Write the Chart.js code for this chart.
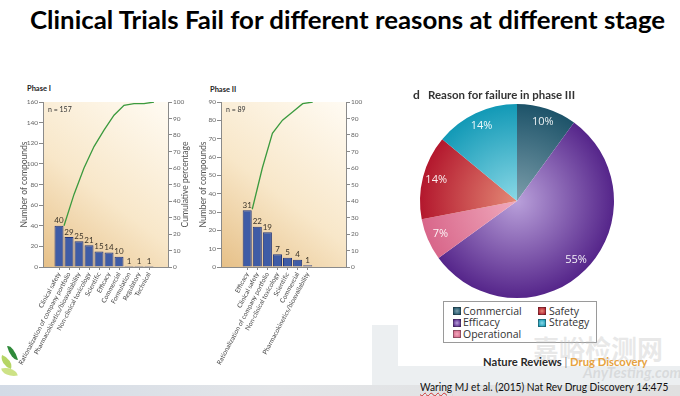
<!DOCTYPE html>
<html><head><meta charset="utf-8">
<script src="https://cdn.jsdelivr.net/npm/chart.js@4.4.1/dist/chart.umd.min.js"></script>
<style>
html,body{margin:0;padding:0;}
body{width:680px;height:396px;overflow:hidden;background:#fff;position:relative;font-family:Lato,"Open Sans",sans-serif;}
.a{position:absolute;white-space:nowrap;}
canvas{position:absolute;}
.sw{position:absolute;width:8px;height:8px;box-sizing:border-box;border:1px solid rgba(0,0,0,0.35);}
.lt{position:absolute;font-size:10.5px;line-height:11px;color:#333;font-family:"Open Sans",Lato,sans-serif;}
.leaf{position:absolute;z-index:5;border-radius:0 100% 0 100%;}
</style></head><body>
<div class="a" style="left:372px;top:325px;width:308px;height:71px;background:#eceff1"></div>
<div class="a" style="left:398px;top:70px;width:282px;height:296px;background:#fff"></div>
<div class="a" style="left:0;top:385px;width:680px;height:11px;background:linear-gradient(90deg,#d3dbe6,#e3e5e8 40%,#e0e0e0)"></div>
<div class="leaf" style="left:9px;top:345px;width:7px;height:16px;background:#2f8a3a;transform:rotate(-15deg)"></div>
<div class="leaf" style="left:0px;top:357px;width:13px;height:10px;background:#b5d565;transform:rotate(20deg)"></div>
<div class="leaf" style="left:2px;top:367px;width:15px;height:10px;background:#cde286;transform:rotate(-10deg)"></div>
<div id="title" class="a" style="left:30px;top:5px;font-weight:700;font-size:24px;line-height:30px;color:#000;transform-origin:0 0">Clinical Trials Fail for different reasons at different stage</div>
<div class="a" style="left:27px;top:85px;font-weight:700;font-size:7.5px;line-height:8px;color:#222">Phase I</div>
<div class="a" style="left:210px;top:86px;font-weight:700;font-size:7.5px;line-height:8px;color:#222">Phase II</div>
<canvas id="c1" width="188" height="300" style="left:5px;top:80px"></canvas>
<canvas id="c2" width="175" height="300" style="left:195px;top:80px"></canvas>
<canvas id="c3" width="200" height="200" style="left:417px;top:101px"></canvas>
<div class="a" style="left:413px;top:88px;font-weight:700;font-size:12px;line-height:13px;color:#333">d</div>
<div id="dtitle" class="a" style="left:428px;top:89px;font-weight:700;font-size:10.5px;line-height:12px;color:#333;transform-origin:0 0">Reason for failure in phase III</div>
<div id="legend" class="a" style="left:443px;top:301px;width:152px;height:40px;border:1px solid #9a9a9a;background:#fff"></div>
<div class="a" style="left:533px;top:333px;font-weight:700;font-size:26px;line-height:30px;color:rgba(190,190,190,0.35);font-family:'Noto Sans CJK SC'">嘉峪检测网</div>
<div id="nature" class="a" style="left:483px;top:356px;font-weight:700;font-size:10.5px;line-height:12px;color:#2a2a2a;transform-origin:0 0">Nature Reviews <span style="color:#888;font-weight:400">|</span> <span style="color:#e6a240">Drug Discovery</span></div>
<div class="a" style="left:583px;top:364px;font-weight:700;font-style:italic;font-size:15px;line-height:16px;color:rgba(180,180,180,0.35)">AnyTesting.com</div>
<div id="foot" class="a" style="left:420px;top:380px;font-size:11px;line-height:14px;color:#111;transform-origin:0 0"><span style="text-decoration:underline wavy #d03030;text-decoration-thickness:1px">Waring</span> MJ et al. (2015) Nat Rev Drug Discovery 14:475</div>
<script>
// ---------- data ----------
const phase1Categories = ['Clinical safety','Rationalization of company portfolio','Pharmacokinetics/bioavailability','Non-clinical toxicology','Scientific','Efficacy','Commercial','Formulation','Regulatory','Technical'];
const phase1Counts = [40,29,25,21,15,14,10,1,1,1];
const phase1Cumulative = [25,44,60,73,83,92,98,99,99,100];
const phase1N = 157;
const phase1CountTicks = [0,20,40,60,80,100,120,140,160];

const phase2Categories = ['Efficacy','Clinical safety','Rationalization of company portfolio','Non-clinical toxicology','Scientific','Commercial','Pharmacokinetics/bioavailability'];
const phase2Counts = [31,22,19,7,5,4,1];
const phase2Cumulative = [35,60,81,89,94,99,100];
const phase2N = 89;
const phase2CountTicks = [0,10,20,30,40,50,60,70,80,90];

const percentTicks = [0,10,20,30,40,50,60,70,80,90,100];

const phase3Reasons = ['Commercial','Efficacy','Operational','Safety','Strategy'];
const phase3Shares = [10,55,7,14,14];

// ---------- styles ----------
const pieCenterColors = ['#7c9eab','#b9a0da','#f0aabd','#e48a76','#8ad8e6'];
const pieEdgeColors   = ['#1d5369','#55258a','#d8668a','#b3172d','#1299b6'];

Chart.defaults.font.family = 'Lato, "Open Sans", sans-serif';
Chart.defaults.color = '#555';

const bgPlugin = {
  id: 'panelBg',
  beforeDraw(chart) {
    const {ctx, chartArea: a} = chart;
    const g = ctx.createLinearGradient(a.left, a.bottom, a.right, a.top);
    g.addColorStop(0, '#e6c088');
    g.addColorStop(0.45, '#f8e7c9');
    g.addColorStop(1, '#fffbf3');
    ctx.save(); ctx.fillStyle = g; ctx.fillRect(a.left, a.top, a.width, a.height); ctx.restore();
  }
};

function extrasPlugin(nValue, showRightTitle) {
  return {
    id: 'extras',
    afterDatasetsDraw(chart) {
      const {ctx, chartArea: a} = chart;
      ctx.save();
      ctx.fillStyle = '#3a3328';
      ctx.font = '8px Lato, "Open Sans", sans-serif';
      ctx.textAlign = 'center'; ctx.textBaseline = 'bottom';
      const meta = chart.getDatasetMeta(1);
      meta.data.forEach((bar, i) => {
        ctx.fillText(String(chart.data.datasets[1].data[i].y), bar.x, bar.y - 1);
      });
      ctx.textAlign = 'left'; ctx.textBaseline = 'middle';
      ctx.fillStyle = '#333';
      ctx.font = '7px Lato, "Open Sans", sans-serif';
      ctx.fillText('n = ' + nValue, a.left + 5, a.top + 8);
      if (showRightTitle) {
        ctx.translate(a.right + 17.5, (a.top + a.bottom) / 2);
        ctx.rotate(-Math.PI / 2);
        ctx.textAlign = 'center';
        ctx.fillStyle = '#555';
        ctx.font = '8.5px Lato, "Open Sans", sans-serif';
        ctx.fillText('Cumulative percentage', 0, 0);
      }
      ctx.restore();
    }
  };
}

function pareto(id, labels, counts, cumulative, nValue, countTicks, cfg) {
  const barData = counts.map((v, i) => ({x: i, y: v}));
  const lineData = cumulative.map((v, i) => ({x: i + 0.5, y: v}));
  const axisColor = '#8a8a8a';
  return new Chart(document.getElementById(id), {
    data: {
      datasets: [
        {type: 'line', data: lineData, yAxisID: 'yPct', borderColor: '#3b9a3e', borderWidth: 1.3, pointRadius: 0, tension: 0, order: 0},
        {type: 'bar', data: barData, yAxisID: 'yCount', backgroundColor: '#3f5ca6', borderColor: '#24377b', borderWidth: 1, barPercentage: 0.9, categoryPercentage: 1, order: 1}
      ]
    },
    options: {
      responsive: false, animation: false, events: [],
      layout: {padding: {top: 22, left: 0, right: 0, bottom: 0}},
      plugins: {legend: {display: false}, tooltip: {enabled: false}},
      scales: {
        x: {
          type: 'linear', min: cfg.xMin, max: cfg.xMax, offset: false,
          afterBuildTicks: s => { s.ticks = labels.map((l, i) => ({value: i})); },
          ticks: {autoSkip: false, minRotation: 62, maxRotation: 62, padding: 1, color: '#444', font: {size: 6.5},
                  callback: v => labels[v]},
          grid: {display: true, drawOnChartArea: false, offset: false, tickLength: 3, color: axisColor},
          border: {display: true, color: axisColor},
          afterFit: s => { s.height = 113; s.paddingLeft = 0; s.paddingRight = 0; }
        },
        yCount: {
          position: 'left', min: 0, max: countTicks[countTicks.length - 1],
          afterBuildTicks: s => { s.ticks = countTicks.map(v => ({value: v})); },
          ticks: {padding: 1, color: '#666', font: {size: 6.5}},
          grid: {display: true, drawOnChartArea: false, tickLength: 4, color: axisColor},
          border: {display: true, color: axisColor},
          title: {display: true, text: 'Number of compounds', color: '#555', font: {size: 8.5}, padding: {top: cfg.titlePad, bottom: 0}},
          afterFit: s => { s.width = cfg.leftW; }
        },
        yPct: {
          position: 'right', min: 0, max: 100,
          afterBuildTicks: s => { s.ticks = percentTicks.map(v => ({value: v})); },
          ticks: {padding: 1, color: '#666', font: {size: 6.5}},
          grid: {display: true, drawOnChartArea: false, tickLength: 4, color: axisColor},
          border: {display: true, color: axisColor},
          afterFit: s => { s.width = cfg.rightW; }
        }
      }
    },
    plugins: [bgPlugin, extrasPlugin(nValue, cfg.rightTitle)]
  });
}

pareto('c1', phase1Categories, phase1Counts, phase1Cumulative, phase1N, phase1CountTicks,
       {xMin: -1.6, xMax: 10.9, leftW: 38, rightW: 25, titlePad: 14, rightTitle: true});
pareto('c2', phase2Categories, phase2Counts, phase2Cumulative, phase2N, phase2CountTicks,
       {xMin: -2.6, xMax: 9.8, leftW: 26, rightW: 24, titlePad: 3, rightTitle: false});

// ---------- pie ----------
function radial(c) {
  const chart = c.chart, a = chart.chartArea, i = c.dataIndex;
  if (!a) return pieEdgeColors[i];
  const cx = (a.left + a.right) / 2, cy = (a.top + a.bottom) / 2, r = Math.min(a.width, a.height) / 2;
  const g = chart.ctx.createRadialGradient(cx, cy, 0, cx, cy, r);
  g.addColorStop(0, pieCenterColors[i]);
  g.addColorStop(1, pieEdgeColors[i]);
  return g;
}
const pieLabels = {
  id: 'pieLabels',
  afterDatasetsDraw(chart) {
    const {ctx} = chart;
    ctx.save();
    ctx.fillStyle = 'rgba(255,255,255,0.92)';
    ctx.font = '11px "Open Sans", Lato, sans-serif';
    ctx.textAlign = 'center'; ctx.textBaseline = 'middle';
    chart.getDatasetMeta(0).data.forEach((arc, i) => {
      const mid = (arc.startAngle + arc.endAngle) / 2;
      const r = arc.outerRadius * 0.86;
      ctx.fillText(chart.data.datasets[0].data[i] + '%', arc.x + Math.cos(mid) * r, arc.y + Math.sin(mid) * r);
    });
    ctx.restore();
  }
};
new Chart(document.getElementById('c3'), {
  type: 'pie',
  data: {labels: phase3Reasons, datasets: [{data: phase3Shares, backgroundColor: radial, borderWidth: 0}]},
  options: {responsive: false, animation: false, events: [], layout: {padding: 3},
            plugins: {legend: {display: false}, tooltip: {enabled: false}}},
  plugins: [pieLabels]
});

// ---------- legend ----------
const legend = document.getElementById('legend');
phase3Reasons.forEach((name, i) => {
  const col = i < 3 ? 0 : 1, row = i < 3 ? i : i - 3;
  const sw = document.createElement('div');
  sw.className = 'sw';
  sw.style.left = (col ? 94 : 9) + 'px';
  sw.style.top = (5 + row * 11.5) + 'px';
  sw.style.background = 'radial-gradient(circle, ' + pieCenterColors[i] + ', ' + pieEdgeColors[i] + ')';
  legend.appendChild(sw);
  const t = document.createElement('div');
  t.className = 'lt';
  t.style.left = (col ? 105 : 19) + 'px';
  t.style.top = (3.5 + row * 11.5) + 'px';
  t.textContent = name;
  legend.appendChild(t);
});

// fit wide texts to their measured widths in the reference
function fit(id, w) { const el = document.getElementById(id); el.style.transform = 'scaleX(' + (w / el.offsetWidth) + ')'; }
fit('title', 635);
fit('foot', 248);
fit('dtitle', 147);
fit('nature', 165);
</script>
</body></html>
